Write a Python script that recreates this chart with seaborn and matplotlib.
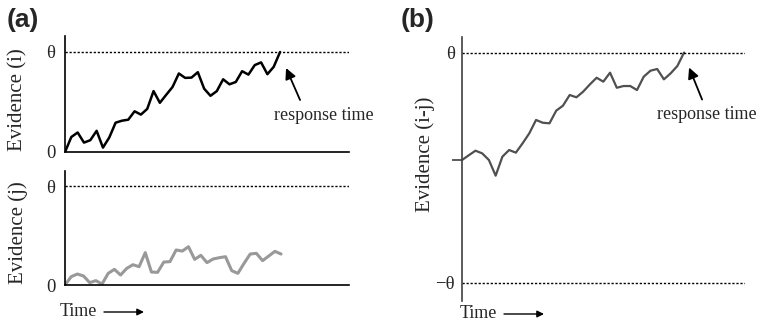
import numpy as np
import pandas as pd
import seaborn as sns
import matplotlib.pyplot as plt
from matplotlib.transforms import offset_copy

# Accumulated evidence for option i (units of the threshold theta)
evidence_i = [0.00, 0.15, 0.195, 0.094, 0.118, 0.212, 0.044, 0.145, 0.293, 0.313,
              0.323, 0.407, 0.374, 0.431, 0.609, 0.492, 0.572, 0.650, 0.785, 0.741,
              0.744, 0.798, 0.633, 0.562, 0.609, 0.727, 0.677, 0.700, 0.808, 0.774,
              0.869, 0.896, 0.778, 0.852, 1.00]

# Accumulated evidence for option j
evidence_j = [0.00, 0.084, 0.111, 0.091, 0.024, 0.044, 0.010, 0.118, 0.158, 0.101,
              0.168, 0.205, 0.185, 0.327, 0.131, 0.128, 0.232, 0.236, 0.354, 0.343,
              0.387, 0.259, 0.300, 0.226, 0.263, 0.276, 0.286, 0.145, 0.118, 0.219,
              0.313, 0.320, 0.246, 0.293, 0.340, 0.313]

# Relative evidence i - j, bounded by +theta / -theta
evidence_diff = [0.066, 0.107, 0.147, 0.124, 0.066, -0.070, 0.095, 0.153, 0.130, 0.211,
                 0.298, 0.414, 0.390, 0.385, 0.495, 0.538, 0.631, 0.611, 0.660, 0.723,
                 0.781, 0.747, 0.825, 0.694, 0.709, 0.709, 0.674, 0.790, 0.842, 0.857,
                 0.767, 0.819, 0.883, 1.00]

theta_ticks_a = [0, 1]
theta_labels_a = ["0", "θ"]
theta_ticks_b = [-1, 1]
theta_labels_b = ["−θ", "θ"]

sns.set_style("white")
plt.rcParams["font.family"] = ["Liberation Serif", "DejaVu Serif"]

W, H = 761, 326
fig = plt.figure(figsize=(W / 100, H / 100), dpi=100)


def rect(left, top, right, bottom):
    return [left / W, 1 - bottom / H, (right - left) / W, (bottom - top) / H]


def frame(df):
    return pd.DataFrame({"time": np.arange(len(df)), "evidence": df})


def style_axis(ax, color, show_bottom=True):
    for side in ("top", "right"):
        ax.spines[side].set_visible(False)
    ax.spines["left"].set_color(color)
    ax.spines["left"].set_linewidth(1.2)
    ax.spines["bottom"].set_visible(show_bottom)
    ax.spines["bottom"].set_color(color)
    ax.spines["bottom"].set_linewidth(1.2)
    ax.set_xticks([])
    ax.set_xlabel("")
    ax.set_ylabel("")
    ax.tick_params(axis="y", which="major", length=0, labelsize=13.5)
    ax.set_facecolor("none")


dash = (0, (1.6, 1.3))

# ---- panel (a), option i
ax_i = fig.add_axes(rect(65, 36, 349, 152))
sns.lineplot(data=frame(evidence_i), x="time", y="evidence", ax=ax_i,
             color="black", lw=1.8)
ax_i.axhline(1, color="black", lw=1.0, ls=dash)
ax_i.set_xlim(0, 44.9)
ax_i.set_ylim(0, 1.16)
style_axis(ax_i, "black")
ax_i.set_yticks(theta_ticks_a)
ax_i.set_yticklabels(theta_labels_a)
ax_i.tick_params(axis="y", pad=7)

# ---- panel (a), option j
ax_j = fig.add_axes(rect(65, 171, 349, 285))
sns.lineplot(data=frame(evidence_j), x="time", y="evidence", ax=ax_j,
             color="#999999", lw=2.2)
ax_j.axhline(1, color="black", lw=1.0, ls=dash)
ax_j.set_xlim(0, 46.0)
ax_j.set_ylim(0, 1.152)
style_axis(ax_j, "black")
ax_j.set_yticks(theta_ticks_a)
ax_j.set_yticklabels(theta_labels_a)
ax_j.tick_params(axis="y", pad=7)

# ---- panel (b), relative evidence
ax_b = fig.add_axes(rect(462, 37, 745, 301))
sns.lineplot(data=frame(evidence_diff), x="time", y="evidence", ax=ax_b,
             color="#505050", lw=1.6)
ax_b.axhline(1, color="black", lw=1.0, ls=dash)
ax_b.axhline(-1, color="black", lw=1.0, ls=dash)
ax_b.set_xlim(0, 42.05)
ax_b.set_ylim(-1.159, 1.135)
style_axis(ax_b, "#404040", show_bottom=False)
ax_b.set_yticks(theta_ticks_b)
ax_b.set_yticklabels(theta_labels_b)
ax_b.tick_params(axis="y", pad=5)
# small tick marking the starting point of the relative evidence
ax_b.set_yticks([evidence_diff[0]], minor=True)
ax_b.set_yticklabels([""], minor=True)
ax_b.tick_params(axis="y", which="minor", left=True, length=7, width=1.2,
                 color="#404040")


# ---- response-time annotations anchored at the threshold crossing
def response_marker(ax, series, head, tail, text_off):
    end = (len(series) - 1, series[-1])
    head_tr = offset_copy(ax.transData, fig=fig, x=head[0], y=head[1], units="dots")
    ax.annotate("", xy=end, xycoords=head_tr, xytext=tail, textcoords="offset pixels",
                arrowprops=dict(arrowstyle="-|>", color="black", lw=1.3,
                                mutation_scale=16, shrinkA=0, shrinkB=0))
    ax.annotate("response time", xy=end, xytext=text_off, textcoords="offset pixels",
                ha="center", va="center", fontsize=13, annotation_clip=False)


response_marker(ax_i, evidence_i, (6, -16), (14, -32), (44, -64))
response_marker(ax_b, evidence_diff, (5, -15), (13, -32), (23, -62))

# ---- axis titles
fig.text(18 / W, 1 - 100 / H, "Evidence (i)", rotation=90, ha="center", va="center",
         fontsize=15)
fig.text(18 / W, 1 - 233 / H, "Evidence (j)", rotation=90, ha="center", va="center",
         fontsize=15)
fig.text(425 / W, 1 - 154 / H, "Evidence (i-j)", rotation=90, ha="center", va="center",
         fontsize=15)

for x0, y0 in ((60, 312), (460, 314)):
    fig.text(x0 / W, 1 - y0 / H, "Time", ha="left", va="center", fontsize=13)
    ax_i.annotate("", xy=(x0 + 84, H - y0), xycoords="figure pixels",
                  xytext=(x0 + 44, H - y0), textcoords="figure pixels",
                  arrowprops=dict(arrowstyle="-|>", color="black", lw=1.0,
                                  mutation_scale=10, shrinkA=0, shrinkB=0),
                  annotation_clip=False)

# ---- panel letters
fig.text(23 / W, 1 - 20 / H, "(a)", ha="center", va="center", fontsize=19,
         fontweight="bold", family=["Liberation Sans", "DejaVu Sans"])
fig.text(418 / W, 1 - 20 / H, "(b)", ha="center", va="center", fontsize=19,
         fontweight="bold", family=["Liberation Sans", "DejaVu Sans"])

fig.savefig("out.png", dpi=100, facecolor="white")
